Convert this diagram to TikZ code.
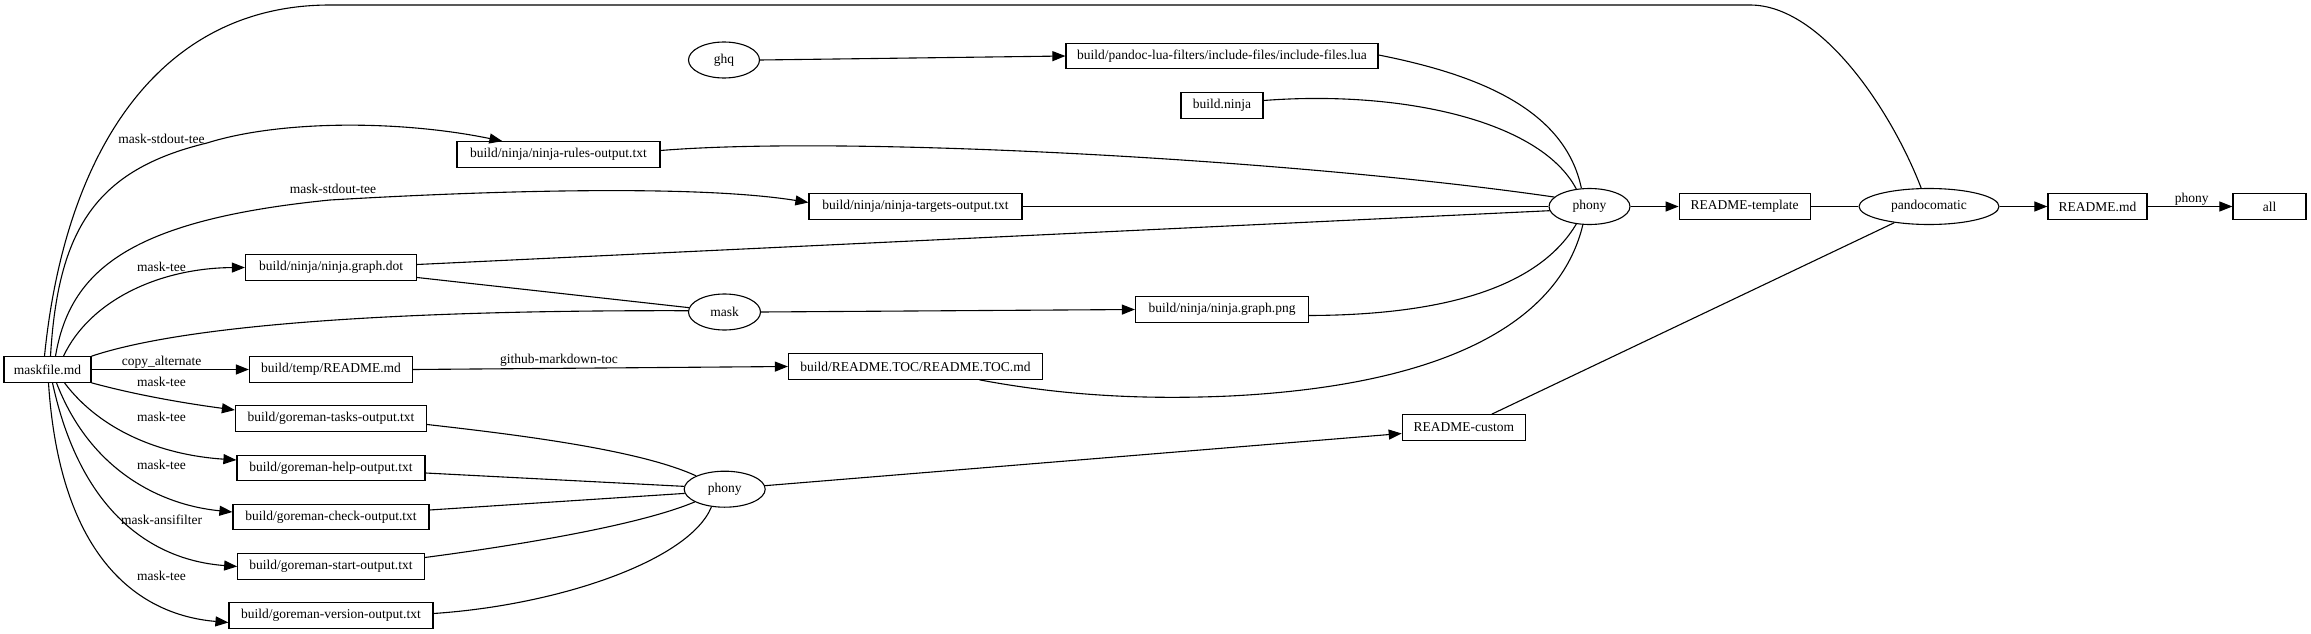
\documentclass[tikz,border=0pt]{standalone}
\usepackage{fontspec}
\setmainfont{Liberation Serif}
\usetikzlibrary{arrows.meta,shapes.geometric,calc}
\begin{document}
\begin{tikzpicture}[x=1pt,y=-1pt,
  every node/.style={font=\fontsize{13.5}{16}\selectfont},
  box/.style={draw,rectangle,line width=1.2pt,minimum height=25.5pt,inner xsep=3pt,inner ysep=0pt},
  oval/.style={draw,ellipse,line width=1.1pt,minimum height=36pt,inner sep=0pt},
  edge/.style={line width=1.1pt},
  arr/.style={edge,-{Triangle[length=13pt,width=10pt]}},
  lbl/.style={inner sep=0pt}]
\useasboundingbox (0,0) rectangle (2311,634);

% nodes
\node[box,minimum width=87pt] (maskfile) at (47.5,369.5) {maskfile.md};
\node[box,minimum width=203pt] (rules) at (558.5,154.5) {build/ninja/ninja-rules-output.txt};
\node[box,minimum width=213pt] (targets) at (915.5,206.5) {build/ninja/ninja-targets-output.txt};
\node[box,minimum width=171pt] (dot) at (331,267.5) {build/ninja/ninja.graph.dot};
\node[box,minimum width=163pt] (tmp) at (331,369.5) {build/temp/README.md};
\node[box,minimum width=254pt] (toc) at (915.5,366.5) {build/README.TOC/README.TOC.md};
\node[box,minimum width=191pt] (tasks) at (331,418.5) {build/goreman-tasks-output.txt};
\node[box,minimum width=188pt] (help) at (331,468) {build/goreman-help-output.txt};
\node[box,minimum width=196pt] (check) at (331,517) {build/goreman-check-output.txt};
\node[box,minimum width=186.5pt] (start) at (331,566.5) {build/goreman-start-output.txt};
\node[box,minimum width=204pt] (version) at (331,615.5) {build/goreman-version-output.txt};
\node[oval,minimum width=71pt] (ghq) at (724,60) {ghq};
\node[box,minimum width=312pt] (lua) at (1222,56) {build/pandoc-lua-filters/include-files/include-files.lua};
\node[box,minimum width=82pt] (bninja) at (1222,105.5) {build.ninja};
\node[oval,minimum width=72pt] (mask) at (724.5,312) {mask};
\node[box,minimum width=173pt] (png) at (1222,309.5) {build/ninja/ninja.graph.png};
\node[oval,minimum width=81pt] (phonyA) at (1589.5,206.5) {phony};
\node[box,minimum width=131pt] (tmpl) at (1744.7,206.5) {README-template};
\node[oval,minimum width=140pt] (pandoc) at (1929,206.5) {pandocomatic};
\node[box,minimum width=99pt] (readme) at (2097.5,206.5) {README.md};
\node[box,minimum width=73pt] (all) at (2269.5,206.5) {all};
\node[box,minimum width=123pt] (custom) at (1463.8,427.5) {README-custom};
\node[oval,minimum width=81pt] (phonyB) at (724.7,489.2) {phony};

% edges from maskfile
\draw[edge] ($(maskfile.north)+(-3,0)$) .. controls (65,150) and (160,5) .. (330,5) -- (1750,5) .. controls (1822,5) and (1892,112) .. (pandoc.113);
\draw[arr] ($(maskfile.north)+(3,0)$) .. controls (58,230) and (95,170) .. (207,143) .. controls (280,120) and (400,120) .. ($(rules.north west)+(46,0)$);
\draw[arr] ($(maskfile.north)+(8,0)$) .. controls (70,270) and (130,220) .. (330,200) .. controls (500,190) and (700,185) .. ($(targets.west)+(0,-4)$);
\draw[arr] ($(maskfile.north)+(16,0)$) .. controls (90,300) and (160,268) .. (dot.west);
\draw[edge] (maskfile.north east) .. controls (200,320) and (450,310) .. (mask.178);
\draw[arr] (maskfile.east) -- (tmp.west);
\draw[arr] (maskfile.south east) .. controls (140,396) and (190,404) .. ($(tasks.west)+(0,-8.5)$);
\draw[arr] ($(maskfile.south)+(17,0)$) .. controls (100,430) and (160,455) .. ($(help.west)+(0,-8)$);
\draw[arr] ($(maskfile.south)+(9,0)$) .. controls (90,470) and (160,505) .. ($(check.west)+(0,-5)$);
\draw[arr] ($(maskfile.south)+(5,0)$) .. controls (80,510) and (150,560) .. (start.west);
\draw[arr] ($(maskfile.south)+(1,0)$) .. controls (60,560) and (140,615) .. ($(version.west)+(0,7)$);

% edge labels
\node[lbl] (l1) at (161.5,138.5) {mask-stdout-tee};
\node[lbl] (l2) at (333,189) {mask-stdout-tee};
\node[lbl] (l3) at (161.6,267) {mask-tee};
\node[lbl] (l4) at (161.5,362) {copy\_alternate};
\node[lbl] (l5) at (161.6,381.7) {mask-tee};
\node[lbl] (l6) at (161.6,417) {mask-tee};
\node[lbl] (l7) at (161.6,465) {mask-tee};
\node[lbl] (l8) at (161.6,520) {mask-ansifilter};
\node[lbl] (l9) at (161.6,576) {mask-tee};
\node[lbl] (l10) at (559,360) {github-markdown-toc};
\node[lbl] (l11) at (2191.7,199.3) {phony};

% middle edges
\draw[arr] (ghq.east) -- (lua.west);
\draw[edge] ($(lua.east)+(0,-1)$) .. controls (1480,75) and (1565,110) .. (phonyA.114);
\draw[edge] ($(bninja.east)+(0,-5)$) .. controls (1400,90) and (1540,120) .. (phonyA.127);
\draw[edge] ($(rules.east)+(0,-4)$) .. controls (850,135) and (1300,160) .. (phonyA.165);
\draw[edge] (targets.east) -- (phonyA.west);
\draw[edge] ($(dot.east)+(0,-3)$) -- (phonyA.186);
\draw[edge] ($(dot.east)+(0,10)$) -- (mask.173);
\draw[arr] (mask.east) -- (png.west);
\draw[edge] ($(png.east)+(0,6)$) .. controls (1450,315) and (1540,285) .. (phonyA.233);
\draw[edge] ($(toc.south)+(64,0)$) .. controls (1060,395) and (1140,400) .. (1230,396) .. controls (1450,385) and (1560,320) .. (phonyA.250);
\draw[arr] (tmp.east) -- (toc.west);

% goreman to phony
\draw[edge] ($(tasks.east)+(0,6)$) .. controls (520,435) and (640,450) .. (phonyB.155);
\draw[edge] ($(help.east)+(0,5)$) -- (phonyB.176);
\draw[edge] ($(check.east)+(0,-7)$) -- (phonyB.186);
\draw[edge] ($(start.east)+(0,-9)$) .. controls (520,545) and (640,525) .. (phonyB.203);
\draw[edge] ($(version.east)+(0,-2)$) .. controls (560,605) and (690,560) .. (phonyB.233);
\draw[arr] (phonyB.5) -- ($(custom.west)+(0,6)$);
\draw[edge] ($(custom.north)+(28,0)$) -- (pandoc.205);

% right chain
\draw[arr] (phonyA.east) -- (tmpl.west);
\draw[edge] (tmpl.east) -- (pandoc.west);
\draw[arr] (pandoc.east) -- (readme.west);
\draw[arr] (readme.east) -- (all.west);
\end{tikzpicture}
\end{document}
